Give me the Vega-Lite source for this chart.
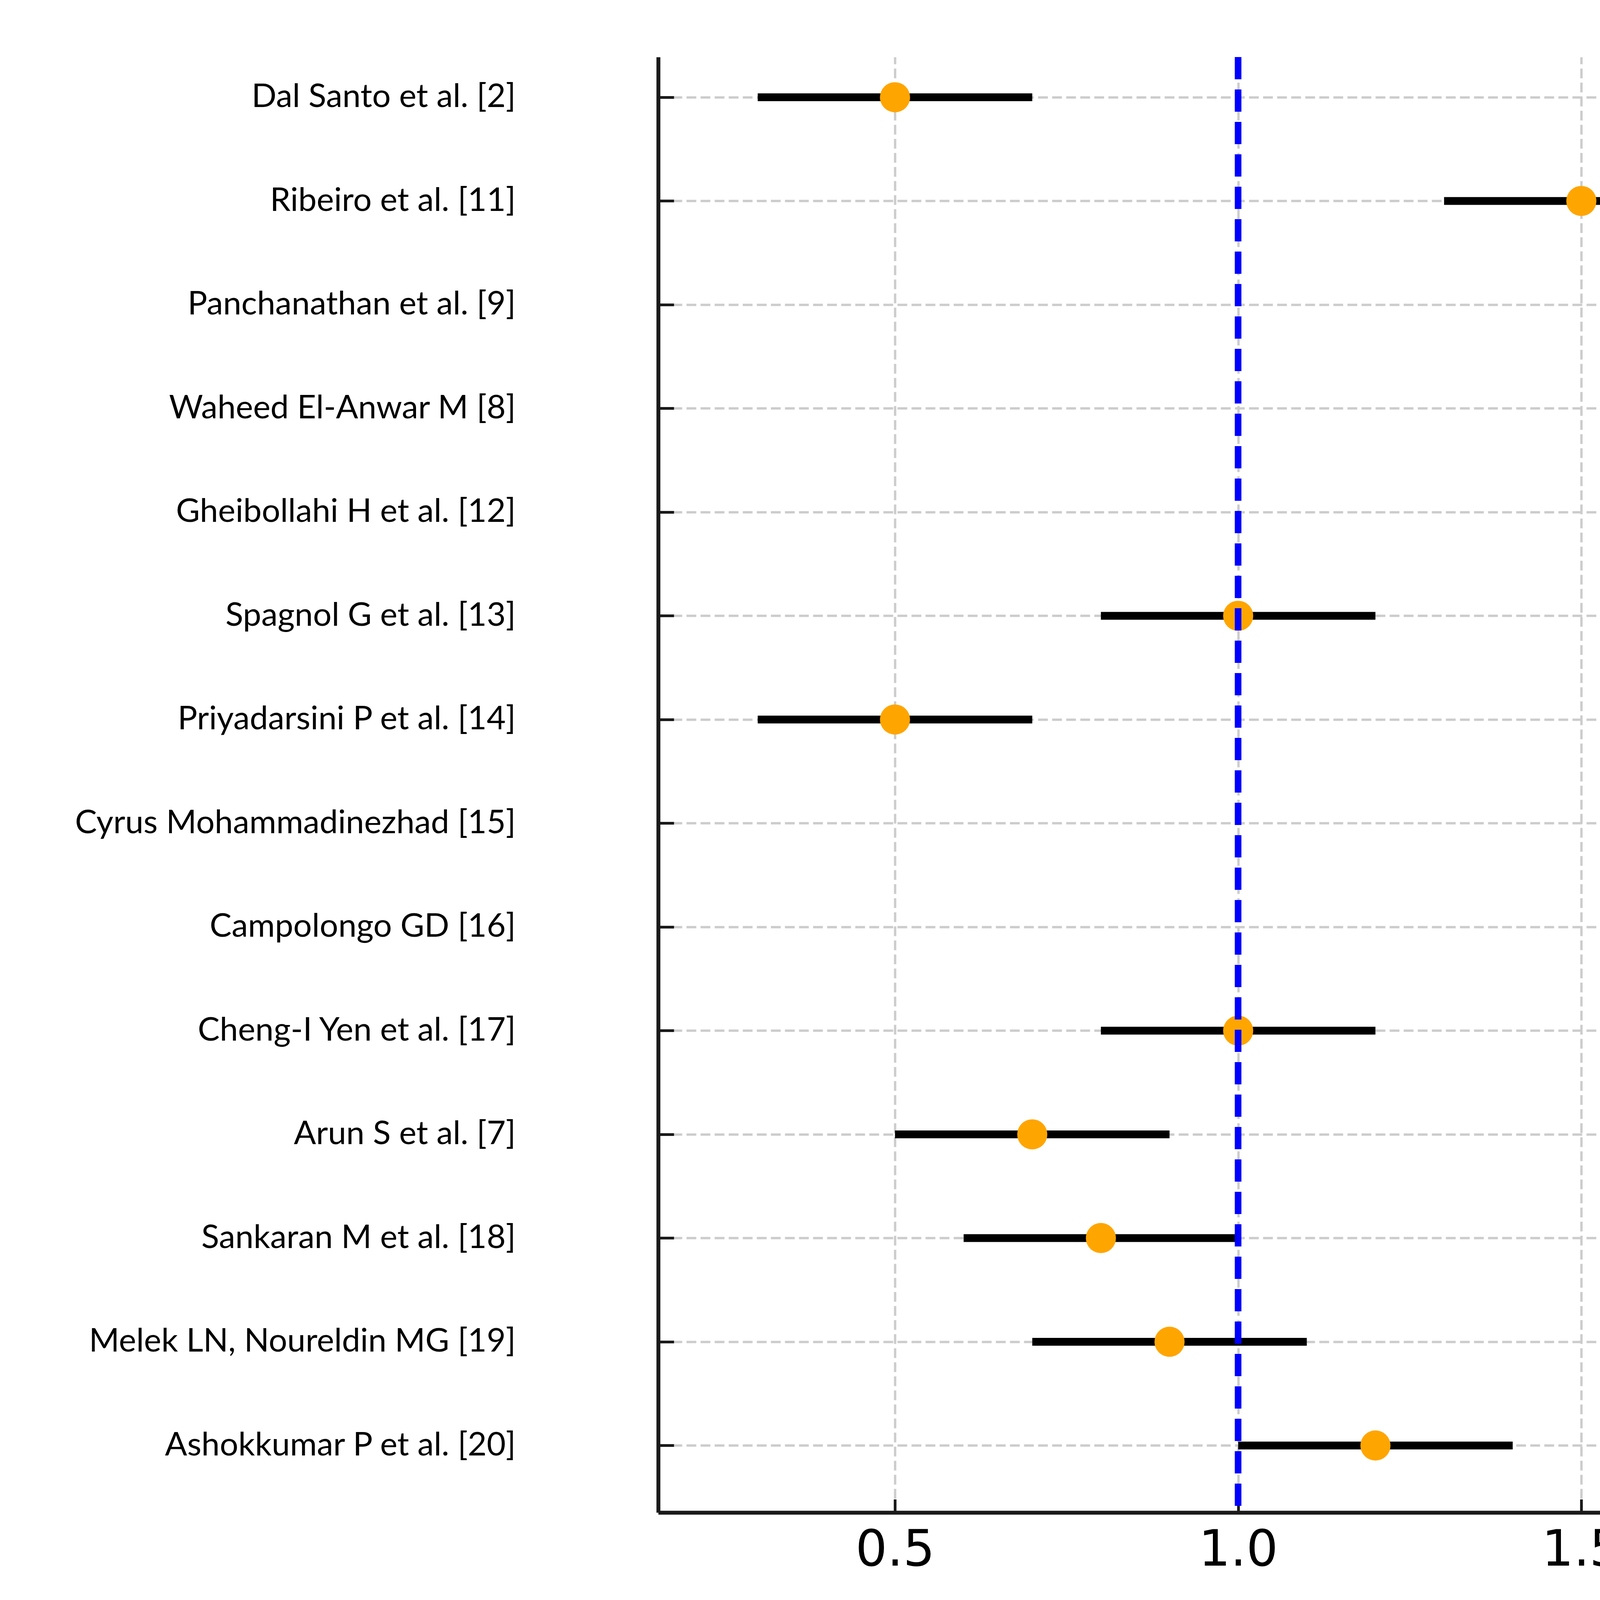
{
  "$schema": "https://vega.github.io/schema/vega-lite/v6.json",
  "autosize": {"type": "none"},
  "width": 5605,
  "height": 3726,
  "padding": {"left": 1685, "top": 146, "right": 246, "bottom": 388},
  "background": "white",
  "config": {
    "view": {"stroke": null},
    "axis": {
      "domainColor": "#1a1a1a",
      "domainWidth": 10,
      "tickColor": "#1a1a1a",
      "tickWidth": 7,
      "gridColor": "#cccccc",
      "gridWidth": 6,
      "gridDash": [25, 11],
      "labelColor": "black",
      "titleColor": "black"
    }
  },
  "data": {
    "values": [
      {"study": "Dal Santo et al. [2]", "es": 0.5, "lo": 0.3, "hi": 0.7},
      {"study": "Ribeiro et al. [11]", "es": 1.5, "lo": 1.3, "hi": 1.7},
      {"study": "Panchanathan et al. [9]", "es": 3.0, "lo": 2.8, "hi": 3.2},
      {"study": "Waheed El-Anwar M [8]", "es": 2.5, "lo": 2.3, "hi": 2.7},
      {"study": "Gheibollahi H et al. [12]", "es": 2.0, "lo": 1.8, "hi": 2.2},
      {"study": "Spagnol G et al. [13]", "es": 1.0, "lo": 0.8, "hi": 1.2},
      {"study": "Priyadarsini P et al. [14]", "es": 0.5, "lo": 0.3, "hi": 0.7},
      {"study": "Cyrus Mohammadinezhad [15]", "es": 3.0, "lo": 2.8, "hi": 3.2},
      {"study": "Campolongo GD [16]", "es": 2.0, "lo": 1.8, "hi": 2.2},
      {"study": "Cheng-I Yen et al. [17]", "es": 1.0, "lo": 0.8, "hi": 1.2},
      {"study": "Arun S et al. [7]", "es": 0.7, "lo": 0.5, "hi": 0.9},
      {"study": "Sankaran M et al. [18]", "es": 0.8, "lo": 0.6, "hi": 1.0},
      {"study": "Melek LN, Noureldin MG [19]", "es": 0.9, "lo": 0.7, "hi": 1.1},
      {"study": "Ashokkumar P et al. [20]", "es": 1.2, "lo": 1.0, "hi": 1.4}
    ]
  },
  "encoding": {
    "y": {
      "field": "study",
      "type": "nominal",
      "sort": null,
      "scale": {"type": "point", "padding": 0.517, "align": 0.375},
      "axis": {
        "title": null,
        "grid": true,
        "tickSize": -40,
        "labelFont": "Lato",
        "labelFontSize": 84,
        "labelAlign": "right",
        "labelBaseline": "middle",
        "labelPadding": 405,
        "labelLimit": 2000
      }
    }
  },
  "layer": [
    {
      "mark": {"type": "rule", "color": "black", "strokeWidth": 20, "strokeCap": "butt"},
      "encoding": {
        "x": {
          "field": "lo",
          "type": "quantitative",
          "scale": {"domain": [0.155, 3.345], "nice": false, "zero": false},
          "axis": {
            "title": "Effect Size",
            "values": [0.5, 1.0, 1.5, 2.0, 2.5, 3.0],
            "format": ".1f",
            "grid": true,
            "tickSize": -34,
            "labelFont": "DejaVu Sans",
            "labelFontSize": 128,
            "labelPadding": 68,
            "labelLimit": 1000,
            "labelFlush": false,
            "titleFont": "DejaVu Sans",
            "titleFontSize": 128,
            "titleFontWeight": "normal",
            "titlePadding": 35
          }
        },
        "x2": {"field": "hi"}
      }
    },
    {
      "mark": {"type": "circle", "color": "#FFA500", "opacity": 1, "size": 5945},
      "encoding": {
        "x": {"field": "es", "type": "quantitative"}
      }
    },
    {
      "mark": {"type": "rule", "color": "#0000FF", "strokeWidth": 16, "strokeDash": [57, 26], "strokeCap": "butt"},
      "encoding": {
        "x": {"datum": 1.0},
        "y": null
      }
    }
  ]
}
